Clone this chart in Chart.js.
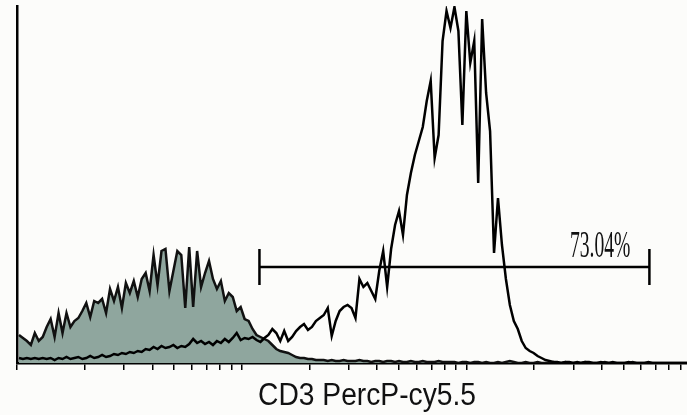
<!DOCTYPE html>
<html>
<head>
<meta charset="utf-8">
<script src="https://cdn.jsdelivr.net/npm/chart.js@4.4.1/dist/chart.umd.min.js"></script>
<style>
  html, body { margin: 0; padding: 0; background: #fcfcfa; }
  #wrap { width: 687px; height: 415px; }
</style>
</head>
<body>
<div id="wrap"><canvas id="c" width="687" height="415"></canvas></div>
<script>
// ---- data ----
const BINS_PER_DECADE = 56.75;           // histogram channels per log decade
const X_MIN = 1;
const X_MAX = 960;
const X_TICKS = [1,2,3,4,5,6,7,8,9,10,20,30,40,50,60,70,80,90,100,200,300,400,500,600,700,800,900];
const X_TITLE = 'CD3 PercP-cy5.5';

// CD3 stained sample (open black histogram)
const cd3Counts = [
  5,4,5,4,5,4,5,4,5,3,
  5,4,6,4,5,6,4,5,7,5,
  6,8,6,7,9,8,10,9,11,10,
  12,11,14,13,16,14,17,15,16,18,
  15,17,16,19,24,20,22,19,21,18,
  22,20,24,21,25,30,23,25,24,26,
  23,21,25,28,34,30,22,32,22,26,
  32,36,39,33,36,42,45,48,55,27,
  42,52,56,58,55,45,84,76,80,72,
  64,92,112,76,114,138,152,128,168,190,
  208,222,236,262,282,205,228,322,352,335,
  356,332,238,352,300,322,180,344,270,232,
  110,165,118,84,58,42,34,22,15,12,
  10,7,5,3,2,1,1,0,1,1,
  0,1,0,1,1,0,0,1,0,0,
  1,0,0,0,1,0,0,0,0,1,
  0,0,0,0,0,0,0,0,0,0
];

// isotype control (grey filled histogram)
const isotypeCounts = [
  28,25,22,18,30,22,26,36,44,26,
  50,30,50,36,42,45,52,60,46,62,
  60,64,50,74,62,76,55,80,70,82,
  66,84,90,72,108,78,112,114,72,92,
  112,108,55,116,56,112,76,90,102,84,
  74,82,62,70,66,52,56,44,42,34,
  28,26,24,22,18,14,12,11,10,8,
  6,5,5,4,4,3,3,3,2,3,
  2,2,3,2,2,2,3,2,2,1,
  2,2,1,2,2,1,2,1,1,2,
  1,1,2,1,1,1,2,1,1,1,
  1,0,1,1,0,1,1,0,1,0,
  0,1,0,1,2,1,0,0,1,0,
  0,1,0,0,0,1,0,0,1,0,
  0,0,0,1,0,0,0,0,1,0,
  0,0,0,0,0,1,0,0,0,0,
  0,0,0,0,0,0,0,0,0,0
];

const Y_MAX = 357;
const GATE_RANGE = [12.0, 653];
const GATE_LEVEL = 96;
const GATE_LABEL = '73.04%';

// ---- build points ----
function channelValue(i) { return Math.pow(10, (i + 0.5) / BINS_PER_DECADE); }
const cd3Points = cd3Counts.map((v, i) => ({ x: channelValue(i), y: v }));
const isoPoints = isotypeCounts.map((v, i) => ({ x: channelValue(i), y: v }));
const gatePoints = GATE_RANGE.map(v => ({ x: v, y: GATE_LEVEL }));

const textPlugin = {
  id: 'texts',
  afterDraw(chart) {
    const ctx = chart.ctx;
    const xs = chart.scales.x, ys = chart.scales.y;
    ctx.save();
    ctx.fillStyle = '#111';
    // axis title
    ctx.font = '31px "Liberation Sans", Arial, sans-serif';
    ctx.textAlign = 'center';
    ctx.textBaseline = 'alphabetic';
    ctx.translate((xs.left + xs.right) / 2 + 15, 405);
    ctx.scale(0.91, 1);
    ctx.fillText(X_TITLE, 0, 0);
    ctx.restore();
    // gate label
    ctx.save();
    ctx.fillStyle = '#111';
    ctx.font = '37px "Liberation Serif", "Times New Roman", serif';
    ctx.textAlign = 'right';
    ctx.textBaseline = 'alphabetic';
    ctx.translate(xs.getPixelForValue(GATE_RANGE[1]) - 19, ys.getPixelForValue(GATE_LEVEL) - 10);
    ctx.scale(0.53, 1);
    ctx.fillText(GATE_LABEL, 0, 0);
    ctx.restore();
  }
};

new Chart(document.getElementById('c'), {
  type: 'line',
  data: {
    datasets: [
      {
        label: 'Isotype',
        data: isoPoints,
        borderColor: '#111',
        borderWidth: 2.5,
        backgroundColor: '#8fa69e',
        fill: 'origin',
        pointRadius: 0,
        tension: 0,
        order: 3
      },
      {
        label: 'CD3',
        data: cd3Points,
        borderColor: '#000',
        borderWidth: 2.5,
        fill: false,
        pointRadius: 0,
        tension: 0,
        order: 2
      },
      {
        label: 'Gate',
        data: gatePoints,
        borderColor: '#000',
        borderWidth: 2.5,
        fill: false,
        pointStyle: 'line',
        pointRotation: 90,
        pointRadius: 18,
        pointBorderWidth: 2.5,
        pointBorderColor: '#000',
        tension: 0,
        clip: false,
        order: 1
      }
    ]
  },
  options: {
    responsive: false,
    devicePixelRatio: 1,
    animation: false,
    events: [],
    layout: { autoPadding: false, padding: { left: 9, right: 0, top: 6, bottom: 45 } },
    plugins: { legend: { display: false }, tooltip: { enabled: false } },
    scales: {
      x: {
        type: 'logarithmic',
        min: X_MIN,
        max: X_MAX,
        afterBuildTicks(scale) { scale.ticks = X_TICKS.map(v => ({ value: v })); },
        ticks: { display: false },
        grid: { display: true, drawOnChartArea: false, drawTicks: true, tickLength: 7, color: '#000', lineWidth: 1.5 },
        border: { display: true, color: '#000', width: 2.5 }
      },
      y: {
        min: 0,
        max: Y_MAX,
        ticks: { display: false },
        grid: { display: false },
        border: { display: true, color: '#000', width: 2.5 }
      }
    }
  },
  plugins: [textPlugin]
});
</script>
</body>
</html>
